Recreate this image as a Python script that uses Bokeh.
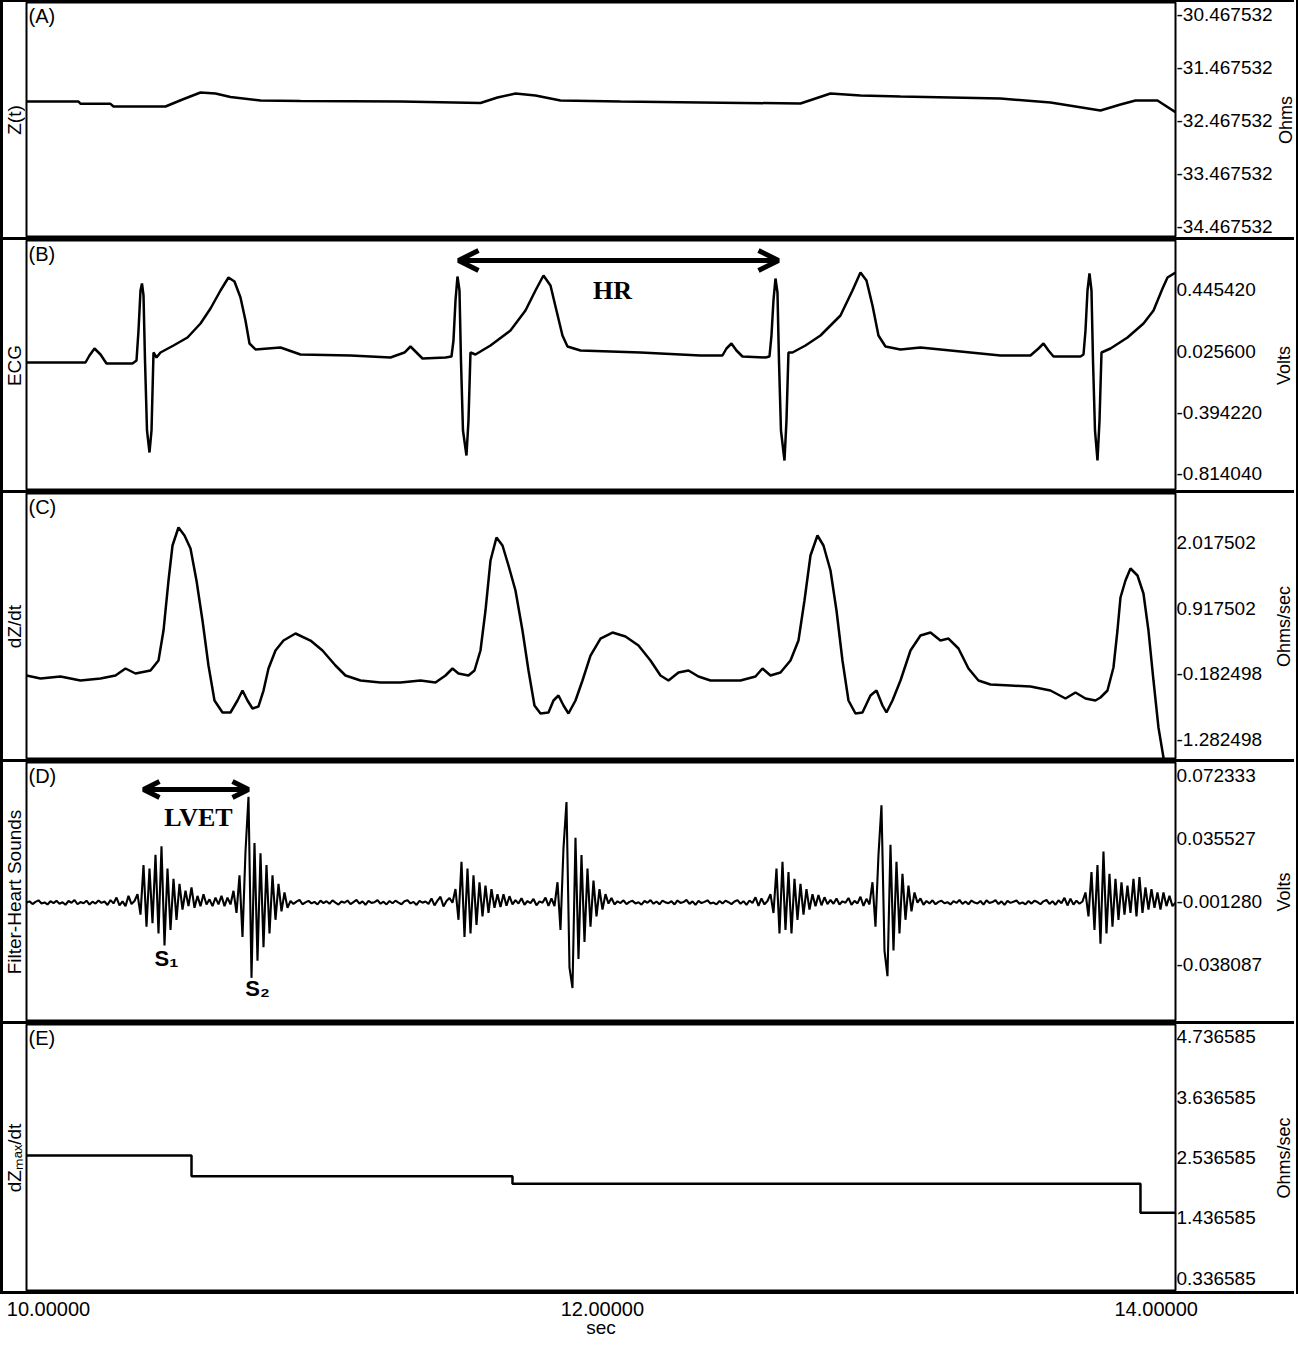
import math
from bokeh.plotting import figure
from bokeh.models import (Range1d, FixedTicker, PrintfTickFormatter, Label, Arrow,
                          OpenHead, Spacer)
from bokeh.layouts import column, row
from bokeh.embed import file_html
from bokeh.resources import INLINE

# ---------------- data ----------------
X0, X1 = 9.92055, 14.0697
x_ticks = [10.0, 12.0, 14.0]

# (A) Z(t), Ohms
z_ticks = [-30.467532, -31.467532, -32.467532, -33.467532, -34.467532]
z_t = [9.9206, 10.1083, 10.1155, 10.2239, 10.2347, 10.4225, 10.4839, 10.5488, 10.6030,
       10.6572, 10.7655, 10.9099, 11.2710, 11.5599, 11.6213, 11.6863, 11.7585, 11.8488,
       12.0654, 12.3543, 12.7154, 12.7696, 12.8238, 12.9321, 13.0765, 13.2571, 13.4377,
       13.6182, 13.7988, 13.8710, 13.9252, 14.0046, 14.0696]
z_v = [-32.1185, -32.1185, -32.1619, -32.1619, -32.2128, -32.2128, -32.0807, -31.9487, -31.9675,
       -32.0336, -32.1007, -32.1090, -32.1185, -32.1468, -32.0430, -31.9675, -32.0053, -32.1007,
       -32.1185, -32.1373, -32.1562, -32.0618, -31.9675, -32.0053, -32.0241, -32.0430, -32.0618,
       -32.1373, -32.2883, -32.1750, -32.1007, -32.1007, -32.3204]

# (B) ECG, Volts
ecg_ticks = [0.445420, 0.025600, -0.394220, -0.814040]
ecg_t = [9.9206, 10.1336, 10.1480, 10.1661, 10.1878, 10.2094, 10.3033, 10.3178, 10.3250,
         10.3322, 10.3376, 10.3431, 10.3485, 10.3557, 10.3647, 10.3720, 10.3792, 10.3900,
         10.4044, 10.4514, 10.5019, 10.5489, 10.5850, 10.6211, 10.6500, 10.6716, 10.6933,
         10.7113, 10.7258, 10.7474, 10.8377, 10.9100, 11.0905, 11.2349, 11.2855, 11.3071,
         11.3288, 11.3505, 11.4335, 11.4552, 11.4624, 11.4697, 11.4769, 11.4841, 11.4895,
         11.4967, 11.5093, 11.5166, 11.5238, 11.5418, 11.5960, 11.6682, 11.7224, 11.7585,
         11.7874, 11.8127, 11.8343, 11.8560, 11.8741, 11.9210, 12.1377, 12.3543, 12.4337,
         12.4482, 12.4662, 12.4843, 12.5060, 12.5890, 12.6035, 12.6107, 12.6179, 12.6252,
         12.6324, 12.6378, 12.6450, 12.6577, 12.6649, 12.6721, 12.6866, 12.7335, 12.7877,
         12.8599, 12.9032, 12.9321, 12.9538, 12.9755, 12.9971, 13.0224, 13.0766, 13.1488,
         13.2571, 13.4377, 13.5460, 13.5749, 13.5930, 13.6110, 13.6291, 13.7266, 13.7375,
         13.7447, 13.7519, 13.7591, 13.7663, 13.7718, 13.7790, 13.7880, 13.7953, 13.8025,
         13.8350, 13.8964, 13.9542, 13.9903, 14.0228, 14.0408, 14.0697]
ecg_v = [-0.0525, -0.0525, -0.0045, 0.0435, 0.0023, -0.0594, -0.0594, -0.0388, 0.1669,
         0.4413, 0.4893, 0.4070, -0.0388, -0.5189, -0.6698, -0.5189, 0.0160, -0.0183,
         0.0160, 0.0641, 0.1189, 0.2150, 0.3178, 0.4413, 0.5304, 0.5030, 0.3932,
         0.2355, 0.0778, 0.0367, 0.0504, 0.0023, -0.0045, -0.0183, 0.0160, 0.0572,
         0.0160, -0.0251, -0.0183, -0.0114, 0.0984, 0.3727, 0.5373, 0.4413, -0.0388,
         -0.5189, -0.6904, -0.4503, 0.0160, 0.0023, 0.0641, 0.1669, 0.3041, 0.4413,
         0.5441, 0.4755, 0.3041, 0.1326, 0.0572, 0.0298, 0.0160, -0.0045, -0.0045,
         0.0435, 0.0778, 0.0298, -0.0114, -0.0183, -0.0114, 0.1326, 0.3727, 0.5236,
         0.4276, -0.0388, -0.5189, -0.7247, -0.4503, 0.0160, 0.0160, 0.0641, 0.1326,
         0.2698, 0.4413, 0.5647, 0.5098, 0.3384, 0.1326, 0.0572, 0.0367, 0.0504,
         0.0298, -0.0045, -0.0045, 0.0435, 0.0778, 0.0298, -0.0114, -0.0114, 0.0023,
         0.1669, 0.4413, 0.5578, 0.4413, -0.0388, -0.5189, -0.7247, -0.4503, 0.0160,
         0.0435, 0.1189, 0.2150, 0.3041, 0.4550, 0.5304, 0.5647]

# (C) dZ/dt, Ohms/sec
dz_ticks = [2.017502, 0.917502, -0.182498, -1.282498]
dz_t = [9.9206, 9.9711, 10.0433, 10.1155, 10.1878, 10.2419, 10.2780, 10.3141, 10.3683,
        10.3972, 10.4153, 10.4333, 10.4478, 10.4694, 10.4911, 10.5128, 10.5344, 10.5561,
        10.5777, 10.5994, 10.6283, 10.6572, 10.6825, 10.7005, 10.7186, 10.7366, 10.7583,
        10.7764, 10.7944, 10.8197, 10.8486, 10.8919, 10.9461, 10.9894, 11.0363, 11.0725,
        11.1266, 11.1988, 11.2711, 11.3433, 11.3974, 11.4336, 11.4588, 11.4805, 11.5166,
        11.5383, 11.5599, 11.5780, 11.5961, 11.6177, 11.6394, 11.6611, 11.6863, 11.7116,
        11.7333, 11.7549, 11.7766, 11.8055, 11.8235, 11.8416, 11.8597, 11.8777, 11.9030,
        11.9283, 11.9572, 11.9933, 12.0366, 12.0835, 12.1305, 12.1738, 12.2099, 12.2388,
        12.2749, 12.3110, 12.3471, 12.3905, 12.4988, 12.5530, 12.5782, 12.6071, 12.6432,
        12.6794, 12.7082, 12.7299, 12.7516, 12.7768, 12.7985, 12.8238, 12.8455, 12.8671,
        12.8888, 12.9141, 12.9393, 12.9682, 12.9899, 13.0116, 13.0260, 13.0477, 13.0766,
        13.1127, 13.1488, 13.1849, 13.2210, 13.2499, 13.2860, 13.3221, 13.3582, 13.4016,
        13.4738, 13.5460, 13.6182, 13.6724, 13.7085, 13.7446, 13.7807, 13.7988, 13.8240,
        13.8457, 13.8601, 13.8710, 13.8890, 13.9071, 13.9324, 13.9540, 13.9721, 13.9902,
        14.0082, 14.0263, 14.0371]
dz_v = [-0.2107, -0.2612, -0.2276, -0.2948, -0.2612, -0.2107, -0.0931, -0.1771, -0.1267,
        0.0414, 0.5458, 1.3864, 1.9748, 2.2774, 2.1429, 1.9244, 1.3864, 0.7139,
        -0.0426, -0.6310, -0.8328, -0.8328, -0.6310, -0.4629, -0.6310, -0.7655, -0.7318,
        -0.4629, -0.0931, 0.2095, 0.3776, 0.4953, 0.3776, 0.2095, -0.0426, -0.2107,
        -0.2948, -0.3284, -0.3284, -0.2948, -0.3284, -0.2107, -0.0931, -0.1771, -0.2107,
        -0.1267, 0.2095, 0.8820, 1.7227, 2.1093, 1.9748, 1.6386, 1.2183, 0.5458,
        -0.1267, -0.7150, -0.8496, -0.8328, -0.6310, -0.5469, -0.7150, -0.8496, -0.6310,
        -0.2948, 0.1254, 0.4112, 0.5121, 0.4448, 0.2935, 0.0414, -0.2107, -0.2948,
        -0.1603, -0.1267, -0.2276, -0.2948, -0.2948, -0.2276, -0.0931, -0.2107, -0.1603,
        0.0414, 0.3776, 1.0502, 1.8067, 2.1429, 1.9748, 1.5545, 0.8820, 0.0414,
        -0.6310, -0.8496, -0.8328, -0.5469, -0.4629, -0.7150, -0.8328, -0.6310, -0.2948,
        0.2095, 0.4617, 0.5121, 0.3776, 0.4112, 0.2432, -0.0931, -0.2948, -0.3621,
        -0.3789, -0.3957, -0.4629, -0.5974, -0.4965, -0.5974, -0.6310, -0.5805, -0.4629,
        -0.0763, 0.5458, 1.1006, 1.3864, 1.5882, 1.4705, 1.1679, 0.5458, -0.2948,
        -1.0850, -1.5893, -1.7238]

# (D) Filter-Heart Sounds, sampled every hs_dt seconds from hs_t0, values in mV
hs_ticks = [0.072333, 0.035527, -0.001280, -0.038087]
hs_t0 = 9.92055
hs_dt = 0.010833
hs_mv = [
    -1.9, -1.2, -2.8, -1.5, -0.6, -2.4, -1.8, -3.0, -1.1, -2.2, -0.9, -2.6, -1.7, -3.2, -1.0,
    -2.0, -0.4, -2.9, -1.6, -2.3, -0.8, -3.1, -1.4, -2.5, -0.7, -2.1, -1.3, -3.3, -0.5, -2.4,
    1.0, -3.5, -1.2, -4.0, 2.0, -2.8,
    -1, 3, -9, 20, -16, 18, -14, 26, -20, 31, -27, 18, -18, 12, -12, 9, -6, 5,
    -4, 7, -5, 2, -4, 3, -3, 0, -4, 1, -3, 2, -4, 1,
    -3, 5, -8, 14, -22, 28, 60, -46, 33, -36, 27, -28, 20, -20, 14, -12, 9, -7, 4, -5,
    -1.0, -2.7, -1.4, -0.3, -2.9, -1.8, -0.9, -2.4, -1.5, -3.0, -0.8, -2.2, -1.1, -2.6, -0.6,
    -1.9, -3.1, -1.3, -2.0, -0.7, -2.8, -1.6, -0.4, -2.5, -1.2, -3.2, -0.9, -2.1, -1.7, -0.5,
    -2.6, -1.4, -3.0, -1.0, -2.3, -0.8, -1.9, -2.9, -1.1, -0.6, -2.4, -1.5, -3.3, -0.9, -2.0,
    -1.3, -2.7, 0.5, -3.6, -0.8, 1.5, -4.2, -1.0, 0.8,
    -2, 6, -12, 22, -22, 18, -20, 14, -15, 10, -10, 8, -8, 6, -5, 3,
    -4.5, 3.0, -3.8, 1.8, -3.0, -0.5, -2.5, 0.6, -3.2, -1.0, -2.2, 0.2, -3.5, -1.2, -2.0,
    1.0, -3.8, 0.5,
    -4, 10, -18, 30, 57, -40, -52, 36, -35, 26, -25, 18, -16, 11, -10, 6, -6, 3,
    -2.5, 0.8, -3.0, -1.2, -2.2, -0.6, -2.8, -1.5, -0.9, -2.4, -1.7, -3.1, -1.0, -2.0, -0.5,
    -2.6, -1.3, -2.9, -0.8, -1.8, -2.3, -1.1, -3.0, -0.7, -2.1, -1.6, -0.4, -2.7, -1.2, -3.2,
    -0.9, -2.2, -1.5, -0.6, -2.5, -1.9, -3.0, -1.0, -2.4, -0.8, -1.7, -2.8, -1.3, -0.5, -2.6,
    -1.1, -3.3, -0.7, -2.2, 1.2, -3.8, 0.5, -3.0, -1.0,
    3, -8, 18, -20, 22, -18, 16, -20, 12, -12, 9, -9, 6, -6, 3,
    -4.0, 2.5, -3.5, 1.2, -2.8, -0.4, -2.6, 0.5, -3.0, -1.2, -2.0, 0.8, -3.2, -0.9, -2.4,
    1.5, -3.9, 0.3,
    -3, 10, -16, 26, 55, -30, -45, 32, -30, 22, -20, 15, -12, 8, -7, 4,
    -2.0, 0.5, -3.2, -1.0, -2.4, -0.6, -2.9, -1.5, -0.8, -2.3, -1.7, -3.0, -1.1, -2.1, -0.4,
    -2.7, -1.3, -2.9, -0.7, -1.9, -2.4, -1.0, -3.1, -0.6, -2.2, -1.6, -0.5, -2.8, -1.2, -3.3,
    -0.9, -2.1, -1.4, -0.7, -2.6, -1.8, -3.0, -1.0, -2.5, -0.8, -1.6, -2.9, -1.2, -0.4, -2.7,
    -1.1, -3.2, -0.6, -2.3, 0.9, -3.6, 0.4, -3.1, -0.8, -2.6, -1.3,
    4, -10, 16, -18, 20, -26, 28, -20, 15, -16, 12, -12, 10, -9,
    8, -8, 12, -10, 13, -8, 7, -6, 6, -5, 4, -6, 4, -4, 2, -4, -2]
hs_t = [hs_t0 + k * hs_dt for k in range(len(hs_mv))]
hs_v = [m / 1000.0 for m in hs_mv]

# (E) dZmax/dt, Ohms/sec (step values)
dm_ticks = [4.736585, 3.636585, 2.536585, 1.436585, 0.336585]
dm_t = [9.9206, 10.5164, 11.6755, 13.9432, 14.0697]
dm_v = [2.573, 2.196, 2.058, 1.530, 1.530]

# annotation anchors (data units)
hr_span = (11.4805, 12.6360, 0.6471)
hr_text = (12.0366, 0.4447)
lvet_span = (10.3430, 10.7222, 0.0643)
lvet_text = (10.5416, 0.0482)
s1_pos = (10.4261, -0.0347)
s2_pos = (10.7547, -0.0522)

# ---------------- layout ----------------
FONT = "Liberation Sans"
TICK_FS = "19px"
FRAME_W = 1149
PXS = FRAME_W / (X1 - X0)
xr = Range1d(X0, X1)
LEFT_W, RIGHT_B, UNIT_W = 22, 98, 21


def text_strip(text, width, height, size):
    """narrow canvas holding one vertical (bottom-to-top) label"""
    f = figure(width=width, height=height, x_range=Range1d(0, 1), y_range=Range1d(0, 1),
               output_backend="svg", toolbar_location=None,
               x_axis_location=None, y_axis_location=None,
               min_border_left=0, min_border_right=0, min_border_top=0, min_border_bottom=0)
    f.outline_line_color = None
    f.grid.visible = False
    f.add_layout(Label(x=0.5, y=0.5, text=text, angle=math.pi / 2,
                       text_align="center", text_baseline="middle",
                       text_font=FONT, text_font_size=size, text_color="black"))
    return f


def make_panel(height, yr, ticks, letter):
    p = figure(frame_width=FRAME_W, frame_height=height, x_range=xr, y_range=Range1d(*yr),
               output_backend="svg", toolbar_location=None,
               x_axis_location=None, y_axis_location="right",
               min_border_left=1, min_border_right=RIGHT_B,
               min_border_top=0, min_border_bottom=0)
    p.grid.visible = False
    p.outline_line_color = "black"
    p.outline_line_width = 2
    p.background_fill_color = "white"
    p.border_fill_color = "white"
    ax = p.yaxis[0]
    ax.ticker = FixedTicker(ticks=ticks)
    ax.formatter = PrintfTickFormatter(format="%.6f")
    ax.axis_line_color = None
    ax.major_tick_line_color = None
    ax.minor_tick_line_color = None
    ax.major_tick_out = 0
    ax.major_tick_in = 0
    ax.minor_tick_out = 0
    ax.major_label_standoff = 1
    ax.major_label_text_font = FONT
    ax.major_label_text_font_size = TICK_FS
    ax.major_label_text_color = "black"
    p.add_layout(Label(x=X0 + 2 / PXS, y=yr[1], y_offset=-2, text=letter,
                       text_align="left", text_baseline="top",
                       text_font=FONT, text_font_size="20px", text_color="black"))
    return p


def panel_row(p, left_text, unit_text, height):
    return row(text_strip(left_text, LEFT_W, height, "19px"), p,
               text_strip(unit_text, UNIT_W, height, "18px"))


HA, HB, HC, HD, HE = 235, 250, 266, 259, 267

pA = make_panel(HA, (-34.6845, -30.2505), z_ticks, "(A)")
pA.line(z_t, z_v, line_color="black", line_width=2.5)

pB = make_panel(HB, (-0.9304, 0.7842), ecg_ticks, "(B)")
pB.line(ecg_t, ecg_v, line_color="black", line_width=2.5)
pB.add_layout(Arrow(x_start=hr_span[0], y_start=hr_span[2], x_end=hr_span[1], y_end=hr_span[2],
                    line_width=5, line_color="black",
                    start=OpenHead(size=20, line_width=5, line_color="black"),
                    end=OpenHead(size=20, line_width=5, line_color="black")))
pB.add_layout(Label(x=hr_text[0], y=hr_text[1], text="HR", text_align="center",
                    text_baseline="middle", text_font="Liberation Serif",
                    text_font_style="bold", text_font_size="26px", text_color="black"))

pC = make_panel(HC, (-1.6229, 2.8491), dz_ticks, "(C)")
pC.line(dz_t, dz_v, line_color="black", line_width=2.5)

pD = make_panel(HD, (-0.07156, 0.08012), hs_ticks, "(D)")
pD.line(hs_t, hs_v, line_color="black", line_width=2.1)
pD.add_layout(Arrow(x_start=lvet_span[0], y_start=lvet_span[2], x_end=lvet_span[1],
                    y_end=lvet_span[2], line_width=5, line_color="black",
                    start=OpenHead(size=16, line_width=5, line_color="black"),
                    end=OpenHead(size=16, line_width=5, line_color="black")))
pD.add_layout(Label(x=lvet_text[0], y=lvet_text[1], text="LVET", text_align="center",
                    text_baseline="middle", text_font="Liberation Serif",
                    text_font_style="bold", text_font_size="26px", text_color="black"))
for pos, txt in ((s1_pos, "S\u2081"), (s2_pos, "S\u2082")):
    pD.add_layout(Label(x=pos[0], y=pos[1], text=txt, text_align="center",
                        text_baseline="middle", text_font=FONT, text_font_style="bold",
                        text_font_size="22px", text_color="black"))

pE = make_panel(HE, (0.0970, 4.9580), dm_ticks, "(E)")
pE.step(dm_t, dm_v, mode="after", line_color="black", line_width=2.5)

# x axis strip
pX = figure(frame_width=FRAME_W, height=50, x_range=xr, y_range=Range1d(0, 1),
            output_backend="svg", toolbar_location=None, y_axis_location=None,
            min_border_left=26, min_border_right=121, min_border_top=0,
            min_border_bottom=46)
pX.outline_line_color = None
pX.grid.visible = False
xa = pX.xaxis[0]
xa.ticker = FixedTicker(ticks=x_ticks)
xa.formatter = PrintfTickFormatter(format="%.5f")
xa.axis_line_color = None
xa.major_tick_line_color = None
xa.minor_tick_line_color = None
xa.major_tick_out = 0
xa.major_tick_in = 0
xa.minor_tick_out = 0
xa.major_label_standoff = 3
xa.major_label_text_font = FONT
xa.major_label_text_font_size = "20px"
xa.major_label_text_color = "black"
xa.axis_label = "sec"
xa.axis_label_standoff = -2
xa.axis_label_text_font = FONT
xa.axis_label_text_font_size = "19px"
xa.axis_label_text_font_style = "normal"
xa.axis_label_text_color = "black"

INNER_W = LEFT_W + 1 + FRAME_W + RIGHT_B + UNIT_W


def hline(h):
    return Spacer(width=INNER_W, height=h, styles={"background-color": "black"})


def vline(w, h):
    return Spacer(width=w, height=h, styles={"background-color": "black"})


inner = column(hline(2), panel_row(pA, "Z(t)", "Ohms", HA), hline(3),
               panel_row(pB, "ECG", "Volts", HB), hline(3),
               panel_row(pC, "dZ/dt", "Ohms/sec", HC), hline(3),
               panel_row(pD, "Filter-Heart Sounds", "Volts", HD), hline(3),
               panel_row(pE, "dZ\u2098\u2090\u2093/dt", "Ohms/sec", HE), hline(3))
TOTAL_H = 2 + HA + 3 + HB + 3 + HC + 3 + HD + 3 + HE + 3
page = column(row(vline(3, TOTAL_H), inner, vline(2, TOTAL_H)), pX)

open("out.html", "w").write(file_html(page, INLINE))
